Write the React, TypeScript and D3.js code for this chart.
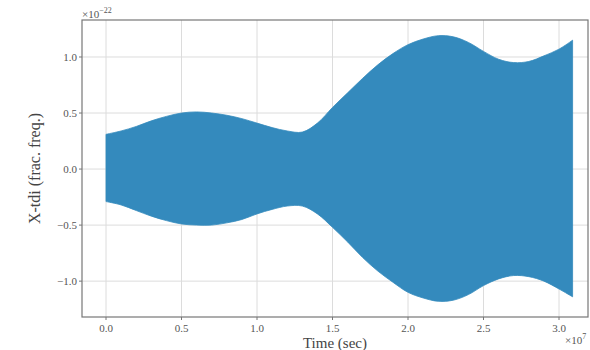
import React from "react";
import * as d3 from "d3";

// Sample times (units of 1e7 s) and the upper / lower envelope of the X-TDI signal (units of 1e-22)
const times = [0.0, 0.1, 0.2, 0.3, 0.4, 0.5, 0.6, 0.7, 0.8, 0.9, 1.0, 1.1, 1.2, 1.3, 1.4, 1.5, 1.6, 1.7, 1.8, 1.9, 2.0, 2.1, 2.2, 2.3, 2.4, 2.5, 2.6, 2.7, 2.8, 2.9, 3.0, 3.09];
const upperEnv = [0.31, 0.34, 0.38, 0.43, 0.47, 0.5, 0.51, 0.5, 0.48, 0.45, 0.41, 0.37, 0.34, 0.33, 0.41, 0.55, 0.68, 0.81, 0.93, 1.03, 1.11, 1.16, 1.19, 1.18, 1.13, 1.05, 0.98, 0.95, 0.96, 1.01, 1.07, 1.15];
const lowerEnv = [-0.29, -0.32, -0.37, -0.42, -0.46, -0.49, -0.5, -0.5, -0.48, -0.45, -0.4, -0.36, -0.33, -0.33, -0.4, -0.52, -0.65, -0.79, -0.91, -1.01, -1.1, -1.15, -1.18, -1.17, -1.12, -1.04, -0.98, -0.95, -0.96, -1.0, -1.07, -1.14];

const xTicks = [0.0, 0.5, 1.0, 1.5, 2.0, 2.5, 3.0];
const yTicks = [-1.0, -0.5, 0.0, 0.5, 1.0];

const W = 590;
const H = 350;
const M = { left: 82, right: 2, top: 20, bottom: 33 };
const FONT = "'Liberation Serif', 'DejaVu Serif', serif";

export default function App() {
  const x = d3.scaleLinear().domain([-0.159, 3.192]).range([M.left, W - M.right]);
  const y = d3.scaleLinear().domain([-1.32, 1.33]).range([H - M.bottom, M.top]);

  const rows = times.map((t, i) => ({ t, hi: upperEnv[i], lo: lowerEnv[i] }));
  const area = d3
    .area<{ t: number; hi: number; lo: number }>()
    .x((d) => x(d.t))
    .y0((d) => y(d.lo))
    .y1((d) => y(d.hi))
    .curve(d3.curveCatmullRom.alpha(0.5));

  const x0 = M.left;
  const x1 = W - M.right;
  const y0 = H - M.bottom;
  const y1 = M.top;

  return (
    <svg width={W} height={H} style={{ position: "absolute", left: 0, top: 0 }} fontFamily={FONT}>
      <rect width={W} height={H} fill="#fff" />
      {/* grid */}
      {xTicks.map((t) => (
        <line key={"gx" + t} x1={x(t)} x2={x(t)} y1={y1} y2={y0} stroke="#dcdcdc" strokeWidth={1} />
      ))}
      {yTicks.map((t) => (
        <line key={"gy" + t} x1={x0} x2={x1} y1={y(t)} y2={y(t)} stroke="#dcdcdc" strokeWidth={1} />
      ))}
      {/* signal */}
      <path d={area(rows) ?? ""} fill="#348ABD" stroke="#348ABD" strokeWidth={0.8} />
      {/* spines */}
      <rect x={x0} y={y1} width={x1 - x0} height={y0 - y1} fill="none" stroke="#777" strokeWidth={1.2} />
      {/* ticks and labels */}
      {xTicks.map((t) => (
        <g key={"tx" + t}>
          <line x1={x(t)} x2={x(t)} y1={y0} y2={y0 + 3} stroke="#777" />
          <text x={x(t)} y={y0 + 15} fontSize={11} fill="#555" textAnchor="middle">
            {t.toFixed(1)}
          </text>
        </g>
      ))}
      {yTicks.map((t) => (
        <g key={"ty" + t}>
          <line x1={x0 - 3} x2={x0} y1={y(t)} y2={y(t)} stroke="#777" />
          <text x={x0 - 5} y={y(t) + 4} fontSize={11} fill="#555" textAnchor="end">
            {t < 0 ? "\u2212" + Math.abs(t).toFixed(1) : t.toFixed(1)}
          </text>
        </g>
      ))}
      {/* offset labels */}
      <text x={x0} y={y1 - 2} fontSize={11} fill="#555">
        ×10<tspan dy={-5} fontSize={8}>−22</tspan>
      </text>
      <text x={565} y={H - 6} fontSize={11} fill="#555">
        ×10<tspan dy={-5} fontSize={8}>7</tspan>
      </text>
      {/* axis titles */}
      <text x={(x0 + x1) / 2} y={H - 2} fontSize={15} fill="#444" textAnchor="middle">
        Time (sec)
      </text>
      <text
        transform={`translate(${40},${(y0 + y1) / 2}) rotate(-90)`}
        fontSize={16}
        fill="#444"
        textAnchor="middle"
      >
        X-tdi (frac. freq.)
      </text>
    </svg>
  );
}
